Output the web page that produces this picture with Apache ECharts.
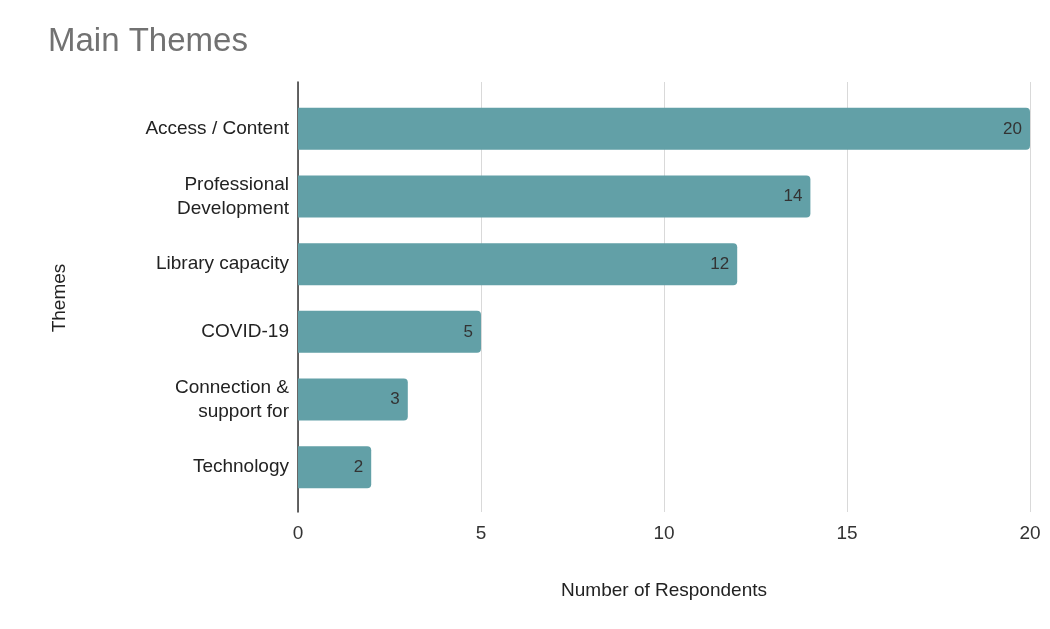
<!DOCTYPE html>
<html>
<head>
<meta charset="utf-8">
<script src="https://cdn.jsdelivr.net/npm/echarts@6/dist/echarts.min.js"></script>
<style>html,body{margin:0;padding:0;background:#fff;}#c{width:1050px;height:629px;}</style>
</head>
<body>
<div id="c"></div>
<script>
const categories = ["Access / Content", "Professional\nDevelopment", "Library capacity", "COVID-19", "Connection &\nsupport for", "Technology"];
const values = [20, 14, 12, 5, 3, 2];
const xTicks = [0, 5, 10, 15, 20];

const FF = '"Liberation Sans", Arial, sans-serif';
const chart = echarts.init(document.getElementById('c'));
chart.setOption({
  animation: false,
  backgroundColor: '#ffffff',
  title: {
    text: 'Main Themes',
    left: 43, top: 20,
    textStyle: { fontFamily: FF, fontSize: 33, fontWeight: 'normal', color: '#727272' }
  },
  grid: [
    { left: 298, right: 20, top: 95, bottom: 128, containLabel: false },
    { left: 298, right: 20, top: 82, bottom: 117, containLabel: false }
  ],
  xAxis: [{
    type: 'value', gridIndex: 0, min: xTicks[0], max: xTicks[xTicks.length - 1], interval: 5,
    name: 'Number of Respondents', nameLocation: 'middle', nameGap: 80,
    nameTextStyle: { fontFamily: FF, fontSize: 19, color: '#222' },
    axisLine: { show: false },
    axisTick: { show: false },
    axisLabel: { fontFamily: FF, fontSize: 19, color: '#333', margin: 23 },
    splitLine: { show: false }
  }, {
    type: 'value', gridIndex: 1, min: xTicks[0], max: xTicks[xTicks.length - 1], interval: 5,
    axisLine: { show: false }, axisTick: { show: false }, axisLabel: { show: false },
    splitLine: { show: true, lineStyle: { color: '#d9d9d9', width: 1 } }
  }],
  yAxis: [{
    type: 'category', gridIndex: 0, inverse: true, data: categories,
    name: 'Themes', nameLocation: 'middle', nameGap: 229, nameRotate: 90,
    nameTextStyle: { fontFamily: FF, fontSize: 19, color: '#222' },
    axisLine: { show: false },
    axisTick: { show: false },
    axisLabel: { fontFamily: FF, fontSize: 19, color: '#222', margin: 9, lineHeight: 24, align: 'right' }
  }, {
    type: 'value', gridIndex: 1, min: 0, max: 1,
    axisLine: { show: true, lineStyle: { color: '#333', width: 1.5 } },
    axisTick: { show: false }, axisLabel: { show: false }, splitLine: { show: false }
  }],
  series: [{
    type: 'bar', xAxisIndex: 0, yAxisIndex: 0, data: values, barCategoryGap: '38%',
    itemStyle: { color: '#62a0a7', borderRadius: [0, 4, 4, 0] },
    label: { show: true, position: 'insideRight', distance: 8, color: '#333', fontFamily: FF, fontSize: 17 }
  }]
});
</script>
</body>
</html>
